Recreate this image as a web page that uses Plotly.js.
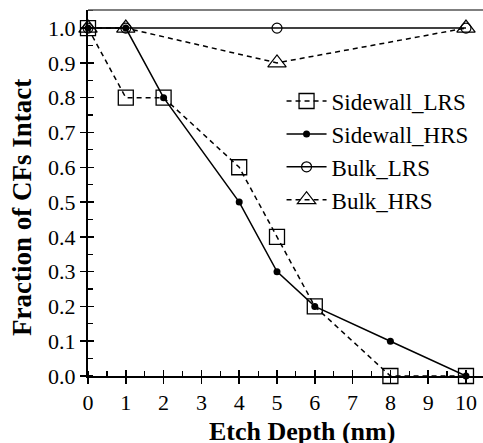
<!DOCTYPE html>
<html>
<head>
<meta charset="utf-8">
<script src="https://cdn.plot.ly/plotly-3.0.1.min.js"></script>
<style>
html,body{margin:0;padding:0;background:#fff;}
#chart{width:483px;height:443px;}
</style>
</head>
<body>
<div id="chart"></div>
<script>
const sidewallX = [0, 1, 2, 4, 5, 6, 8, 10];
const sidewallLRS = [1.0, 0.8, 0.8, 0.6, 0.4, 0.2, 0.0, 0.0];
const sidewallHRS = [1.0, 1.0, 0.8, 0.5, 0.3, 0.2, 0.1, 0.0];
const bulkX = [0, 1, 5, 10];
const bulkLRS = [1.0, 1.0, 1.0, 1.0];
const bulkHRS = [1.0, 1.0, 0.9, 1.0];
const seriesNames = ['Sidewall_LRS', 'Sidewall_HRS', 'Bulk_LRS', 'Bulk_HRS'];
const xTitle = 'Etch Depth (nm)';
const yTitle = 'Fraction of CFs Intact';

const FONT = 'Liberation Serif';
const xRange = [0, 10.45];
const yRange = [0, 1.052];

const traces = [
  {x: sidewallX, y: sidewallLRS, name: seriesNames[0], mode: 'lines+markers', cliponaxis: false,
   line: {color: '#000', width: 1.5, dash: '5px,4px'},
   marker: {symbol: 'square-open', size: 15, color: '#000', line: {width: 1.3}}},
  {x: sidewallX, y: sidewallHRS, name: seriesNames[1], mode: 'lines+markers', cliponaxis: false,
   line: {color: '#000', width: 1.5},
   marker: {symbol: 'circle', size: 7, color: '#000'}},
  {x: bulkX, y: bulkLRS, name: seriesNames[2], mode: 'lines+markers', cliponaxis: false,
   line: {color: '#000', width: 1.5},
   marker: {symbol: 'circle-open', size: 10, color: '#000', line: {width: 1.2}}},
  {x: bulkX, y: bulkHRS, name: seriesNames[3], mode: 'lines+markers', cliponaxis: false,
   line: {color: '#000', width: 1.5, dash: '5px,4px'},
   marker: {symbol: 'triangle-up-open', size: 16, color: '#000', line: {width: 1.2}}},
  {x: [0], y: [0], xaxis: 'x2', yaxis: 'y2', mode: 'markers', showlegend: false, hoverinfo: 'skip',
   marker: {opacity: 0}}
];

const layout = {
  width: 483, height: 443,
  margin: {l: 88, r: 0, t: 10, b: 67},
  paper_bgcolor: '#fff', plot_bgcolor: '#fff',
  font: {family: FONT, color: '#000', size: 22},
  showlegend: true,
  legend: {x: 0.49, y: 0.81, xanchor: 'left', yanchor: 'top', bgcolor: 'rgba(0,0,0,0)',
           itemwidth: 40,
           font: {family: FONT, size: 23, color: '#000'}},
  xaxis: {range: xRange, showgrid: false, zeroline: false, showline: true, linecolor: '#000', linewidth: 2,
          ticks: 'outside', ticklen: 6, tickwidth: 1.5, tickcolor: '#000', dtick: 1, tick0: 0,
          tickfont: {family: FONT, size: 22, color: '#000'},
          minor: {ticks: 'inside', dtick: 0.5, ticklen: 5, tickwidth: 1.2, tickcolor: '#000'}},
  yaxis: {range: yRange, showgrid: false, zeroline: false, showline: true, linecolor: '#000', linewidth: 2,
          ticks: 'outside', ticklen: 6, tickwidth: 1.5, tickcolor: '#000', dtick: 0.1, tick0: 0,
          tickformat: '.1f',
          tickfont: {family: FONT, size: 22, color: '#000'},
          minor: {ticks: 'inside', dtick: 0.05, ticklen: 5, tickwidth: 1.2, tickcolor: '#000'}},
  xaxis2: {range: xRange, overlaying: 'x', anchor: 'y2', showgrid: false, zeroline: false, showline: false,
           ticks: 'inside', ticklen: 6, tickwidth: 1.5, tickcolor: '#000', dtick: 1, tick0: 0, showticklabels: false},
  yaxis2: {range: yRange, overlaying: 'y', anchor: 'x2', showgrid: false, zeroline: false, showline: false,
           ticks: 'inside', ticklen: 6, tickwidth: 1.5, tickcolor: '#000', dtick: 0.1, tick0: 0, showticklabels: false},
  annotations: [
    {text: '<b>' + xTitle + '</b>', xref: 'paper', yref: 'paper', x: 0.542, y: -0.153,
     xanchor: 'center', yanchor: 'middle', showarrow: false,
     font: {family: FONT, size: 26, color: '#000'}},
    {text: '<b>' + yTitle + '</b>', xref: 'paper', yref: 'paper', x: -0.167, y: 0.459,
     xanchor: 'center', yanchor: 'middle', showarrow: false, textangle: -90,
     font: {family: FONT, size: 27, color: '#000'}}
  ],
  shapes: [{type: 'line', xref: 'paper', yref: 'paper', x0: 0, x1: 1, y0: 1, y1: 1,
            line: {color: '#555', width: 1.5}}]
};

Plotly.newPlot('chart', traces, layout, {displayModeBar: false, staticPlot: true});
</script>
</body>
</html>
